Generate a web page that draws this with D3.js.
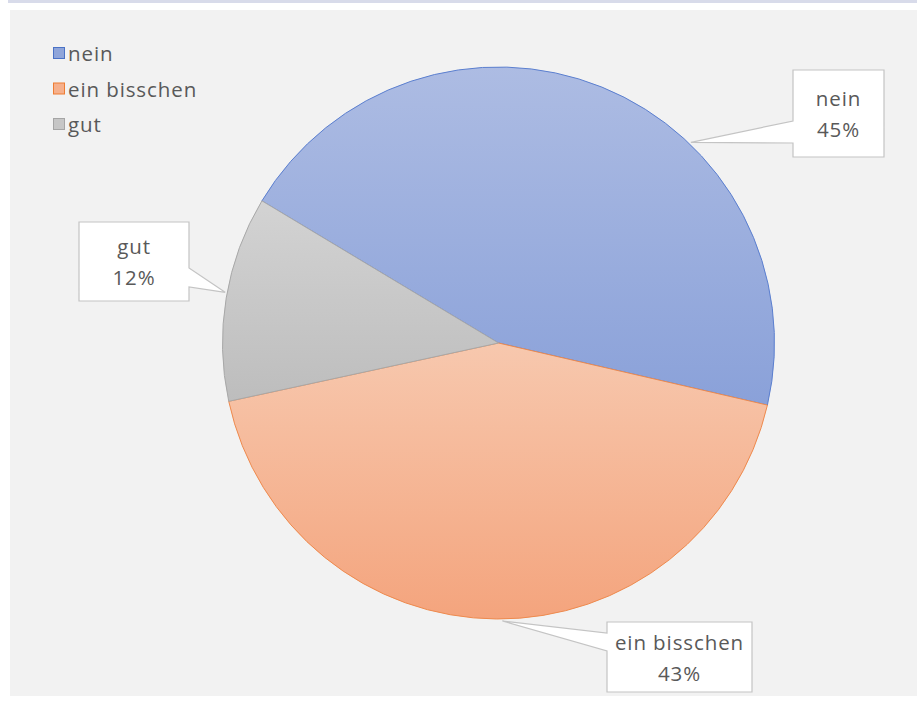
<!DOCTYPE html>
<html>
<head>
<meta charset="utf-8">
<script src="https://cdn.jsdelivr.net/npm/d3@7"></script>
<style>
  html, body { margin: 0; padding: 0; background: #ffffff; }
  svg { display: block; font-family: "Open Sans", "Noto Sans", sans-serif; }
</style>
</head>
<body>
<svg id="chart" width="917" height="702"></svg>
<script>
// Survey answers and their shares (percent)
const categories = ["nein", "ein bisschen", "gut"];
const shares = [45, 43, 12];

// Slice colours: top and bottom of each vertical gradient, plus outline
const gradTop = ["#adbce3", "#f7c8ae", "#d3d3d3"];
const gradBottom = ["#8aa1d9", "#f4a47d", "#bdbdbd"];
const edgeColors = ["#5b7fcf", "#ee8a4e", "#a8a8a8"];
const legendFill = ["#8fa5da", "#f6b08c", "#c6c6c6"];
const legendEdge = ["#4a72c6", "#ee7d33", "#a5a5a5"];

const svg = d3.select("#chart");
const W = 917, H = 702;
const FONT = 20.5, SPACING = 0.9;

// Frame: thin lavender strip on top, grey plot area
svg.append("rect").attr("x", 8).attr("y", 0).attr("width", W - 8).attr("height", 3).attr("fill", "#d8dbea");
svg.append("rect").attr("x", 10).attr("y", 10).attr("width", W - 10).attr("height", 686).attr("fill", "#f2f2f2");

const cx = 498.5, cy = 343, R = 276;
const startDeg = -59;

const defs = svg.append("defs");
categories.forEach((c, i) => {
  const g = defs.append("linearGradient")
    .attr("id", "grad" + i)
    .attr("x1", 0).attr("y1", 0).attr("x2", 0).attr("y2", 1);
  g.append("stop").attr("offset", "0%").attr("stop-color", gradTop[i]);
  g.append("stop").attr("offset", "100%").attr("stop-color", gradBottom[i]);
});

const pie = d3.pie()
  .sort(null)
  .value(d => d)
  .startAngle(startDeg * Math.PI / 180)
  .endAngle((startDeg + 360) * Math.PI / 180);

const arcs = pie(shares);
const arc = d3.arc().innerRadius(0).outerRadius(R);

const gPie = svg.append("g").attr("transform", `translate(${cx},${cy})`);
gPie.selectAll("path")
  .data(arcs)
  .join("path")
  .attr("d", arc)
  .attr("fill", (d, i) => `url(#grad${i})`)
  .attr("stroke", (d, i) => edgeColors[i])
  .attr("stroke-width", 1);

// Callout boxes: position of box and where its pointer touches the pie rim
const callouts = [
  { x: 793, y: 70, w: 91, h: 87, tipDeg: 43.8, side: "left", a0: 121, a1: 143 },
  { x: 607, y: 622, w: 145, h: 70, tipDeg: 179.2, side: "left", a0: 633, a1: 651 },
  { x: 79, y: 222, w: 110, h: 79, tipDeg: 280.5, side: "right", a0: 268, a1: 287 }
];

const gLab = svg.append("g");
arcs.forEach((d, i) => {
  const c = callouts[i];
  const t = c.tipDeg * Math.PI / 180;
  const tx = cx + (R + 2) * Math.sin(t);
  const ty = cy - (R + 2) * Math.cos(t);
  const ex = c.side === "left" ? c.x : c.x + c.w;
  const pts = c.side === "left"
    ? [[c.x, c.y], [c.x + c.w, c.y], [c.x + c.w, c.y + c.h], [c.x, c.y + c.h], [ex, c.a1], [tx, ty], [ex, c.a0]]
    : [[c.x, c.y], [c.x + c.w, c.y], [ex, c.a0], [tx, ty], [ex, c.a1], [c.x + c.w, c.y + c.h], [c.x, c.y + c.h]];
  gLab.append("path")
    .attr("d", "M" + pts.map(p => p.join(",")).join("L") + "Z")
    .attr("fill", "#ffffff")
    .attr("stroke", "#c4c4c4")
    .attr("stroke-width", 1.2)
    .attr("stroke-linejoin", "miter");
  const mx = c.x + c.w / 2, my = c.y + c.h / 2;
  const pct = Math.round(d.value / d3.sum(shares) * 100) + "%";
  gLab.append("text")
    .attr("x", mx).attr("y", my - 15.5)
    .attr("text-anchor", "middle").attr("dominant-baseline", "central")
    .attr("font-size", FONT).attr("letter-spacing", SPACING).attr("fill", "#595959")
    .text(categories[i]);
  gLab.append("text")
    .attr("x", mx).attr("y", my + 15.5)
    .attr("text-anchor", "middle").attr("dominant-baseline", "central")
    .attr("font-size", FONT).attr("letter-spacing", SPACING).attr("fill", "#595959")
    .text(pct);
});

// Legend
const legend = svg.append("g").attr("transform", "translate(53,46)");
categories.forEach((c, i) => {
  const row = legend.append("g").attr("transform", `translate(0,${i * 35.5})`);
  row.append("rect").attr("x", 0.5).attr("y", 1.5).attr("width", 11).attr("height", 11)
    .attr("fill", legendFill[i]).attr("stroke", legendEdge[i]).attr("stroke-width", 1);
  row.append("text").attr("x", 15).attr("y", 7)
    .attr("dominant-baseline", "central")
    .attr("font-size", FONT).attr("letter-spacing", SPACING).attr("fill", "#595959")
    .text(c);
});
</script>
</body>
</html>
